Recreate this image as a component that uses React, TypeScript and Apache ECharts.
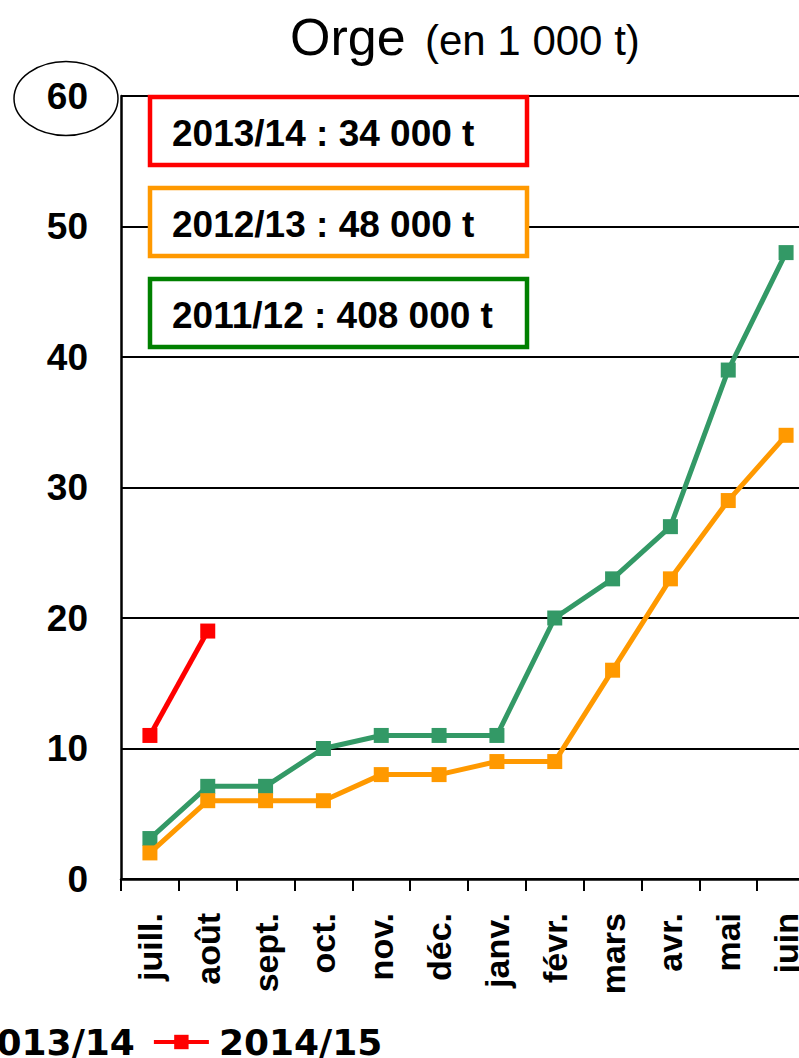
import React, { useEffect, useRef } from "react";
import * as echarts from "echarts";

const months = ["juill.", "août", "sept.", "oct.", "nov.", "déc.", "janv.", "févr.", "mars", "avr.", "mai", "juin"];
const seriesNames = ["2012/13", "2013/14", "2014/15"];
const values2012 = [3.1, 7.1, 7.1, 10, 11, 11, 11, 20, 23, 27, 39, 48];
const values2013 = [2, 6, 6, 6, 8, 8, 9, 9, 16, 23, 29, 34];
const values2014 = [11, 19];
const boxLabels = ["2013/14 : 34 000 t", "2012/13 : 48 000 t", "2011/12 : 408 000 t"];
const boxColors = ["#FF0000", "#FF9900", "#008000"];
const lineColors = ["#339966", "#FF9900", "#FF0000"];

const OFF = 400; // inner chart is shifted left by OFF px (the reference is cropped)
const INNER_W = 1300;
const H = 1058;
const FONT = '"Liberation Sans", Arial, sans-serif';

export default function App() {
  const ref = useRef<HTMLDivElement>(null);
  useEffect(() => {
    if (!ref.current) return;
    const chart = echarts.init(ref.current, null, { renderer: "svg" });
    const boxes: any[] = [];
    boxLabels.forEach((t, i) => {
      const y = 97 + i * 91;
      boxes.push({
        type: "rect",
        x: OFF + 150,
        y,
        shape: { width: 377, height: 68 },
        style: { fill: "#fff", stroke: boxColors[i], lineWidth: 4.5 },
        z: 10,
      });
      boxes.push({
        type: "text",
        x: OFF + 172,
        y: y + 36,
        style: {
          text: t,
          font: `bold 37px ${FONT}`,
          fill: "#000",
          verticalAlign: "middle",
          align: "left",
        },
        z: 11,
      });
    });
    chart.setOption({
      animation: false,
      backgroundColor: "#fff",
      grid: { left: OFF + 121, right: INNER_W - (OFF + 815), top: 96, bottom: H - 879, containLabel: false },
      legend: {
        data: seriesNames,
        left: OFF - 343,
        top: 1024,
        padding: 0,
        itemGap: 17,
        itemWidth: 55,
        itemHeight: 18,
        lineStyle: { width: 4 },
        textStyle: {
          fontFamily: '"DejaVu Sans", sans-serif',
          fontWeight: "bold",
          fontSize: 36,
          color: "#000",
          padding: [0, 0, 0, 5],
        },
      },
      xAxis: {
        type: "category",
        data: months,
        boundaryGap: true,
        axisLine: { lineStyle: { color: "#000", width: 2.5 } },
        axisTick: { show: true, alignWithLabel: false, length: 12, lineStyle: { color: "#000", width: 2 } },
        axisLabel: {
          rotate: 90,
          margin: 34,
          interval: 0,
          fontFamily: FONT,
          fontWeight: "bold",
          fontSize: 34,
          color: "#000",
        },
      },
      yAxis: {
        type: "value",
        min: 0,
        max: 60,
        interval: 10,
        axisLine: { show: true, lineStyle: { color: "#000", width: 2.5 } },
        axisTick: { show: false },
        splitLine: { show: true, lineStyle: { color: "#000", width: 2 } },
        axisLabel: {
          margin: 33,
          fontFamily: FONT,
          fontWeight: "bold",
          fontSize: 37,
          color: "#000",
        },
      },
      graphic: [
        {
          type: "ellipse",
          shape: { cx: OFF + 66, cy: 98.5, rx: 52, ry: 37 },
          style: { fill: "none", stroke: "#000", lineWidth: 1.5 },
          z: 5,
        },
        {
          type: "text",
          x: OFF + 290,
          y: 37,
          style: { text: "Orge", font: `52px ${FONT}`, fill: "#000", verticalAlign: "middle", align: "left" },
        },
        {
          type: "text",
          x: OFF + 425,
          y: 40,
          style: { text: "(en 1 000 t)", font: `42px ${FONT}`, fill: "#000", verticalAlign: "middle", align: "left" },
        },
        ...boxes,
      ],
      series: [
        {
          name: seriesNames[0],
          type: "line",
          data: values2012,
          symbol: "rect",
          symbolSize: 15,
          lineStyle: { color: lineColors[0], width: 5 },
          itemStyle: { color: lineColors[0] },
          z: 2,
        },
        {
          name: seriesNames[1],
          type: "line",
          data: values2013,
          symbol: "rect",
          symbolSize: 15,
          lineStyle: { color: lineColors[1], width: 5 },
          itemStyle: { color: lineColors[1] },
          z: 3,
        },
        {
          name: seriesNames[2],
          type: "line",
          data: values2014,
          symbol: "rect",
          symbolSize: 15,
          lineStyle: { color: lineColors[2], width: 5 },
          itemStyle: { color: lineColors[2] },
          z: 4,
        },
      ],
    });
    return () => chart.dispose();
  }, []);
  return (
    <div style={{ position: "absolute", left: 0, top: 0, width: 799, height: H, overflow: "hidden", background: "#fff" }}>
      <div ref={ref} style={{ position: "absolute", left: -OFF, top: 0, width: INNER_W, height: H }} />
    </div>
  );
}
